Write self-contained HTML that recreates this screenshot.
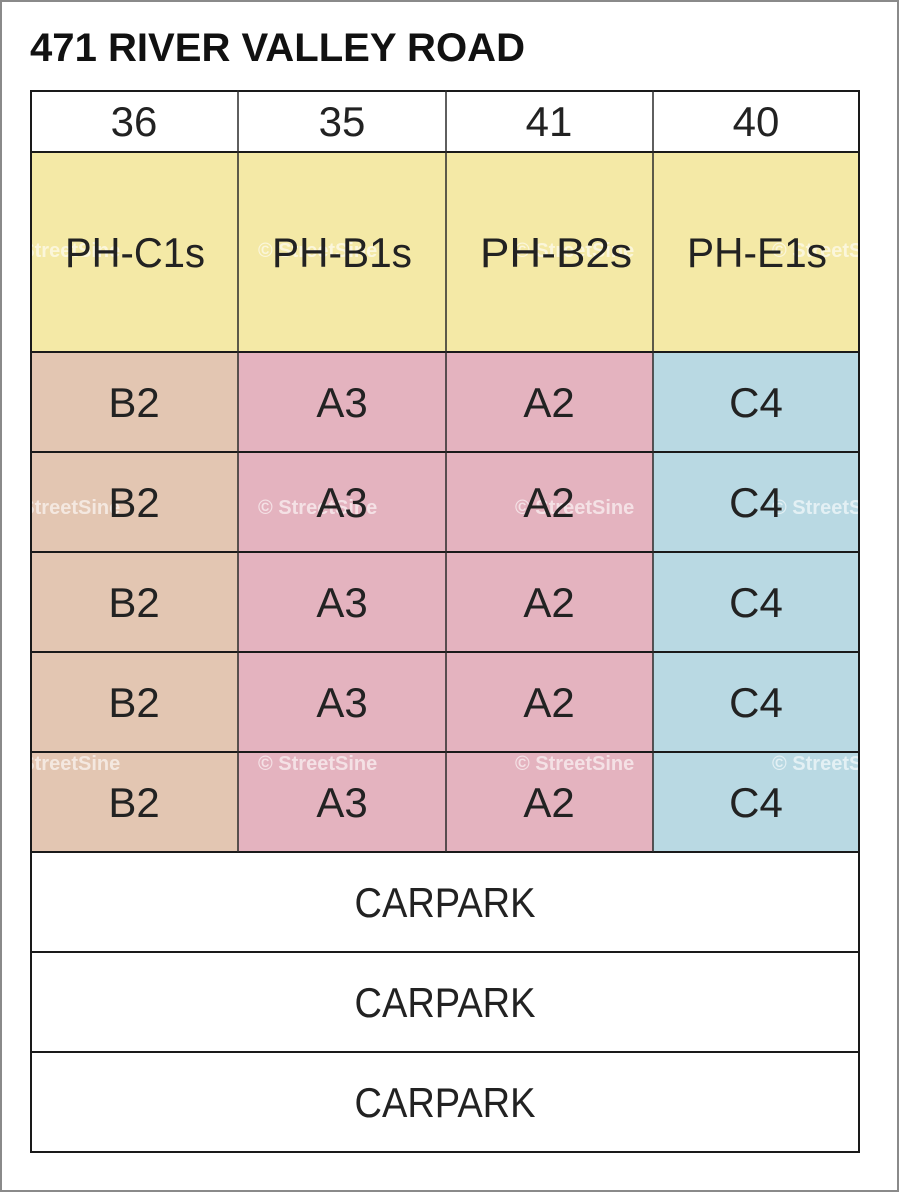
<!DOCTYPE html>
<html><head><meta charset="utf-8"><style>
html,body{margin:0;padding:0;background:#fff;}
svg{display:block;}
</style></head><body>
<svg width="900" height="1193" viewBox="0 0 900 1193" xmlns="http://www.w3.org/2000/svg">
<rect x="1" y="1" width="897" height="1190" fill="#fff" stroke="#8a8a8a" stroke-width="2"/>
<text x="30" y="61" font-family="Liberation Sans, sans-serif" font-weight="bold" font-size="40" fill="#111" textLength="495" lengthAdjust="spacingAndGlyphs">471 RIVER VALLEY ROAD</text>
<!-- fills -->
<rect x="30" y="90" width="830" height="62" fill="#fff"/>
<rect x="30" y="152" width="830" height="200" fill="#f4e9a6"/>
<rect x="30" y="352" width="208" height="500" fill="#e3c6b2"/>
<rect x="238" y="352" width="415" height="500" fill="#e4b3bf"/>
<rect x="653" y="352" width="207" height="500" fill="#b9d9e3"/>
<rect x="30" y="852" width="830" height="301" fill="#fff"/>
<!-- watermarks -->
<clipPath id="c"><rect x="30" y="90" width="830" height="1063"/></clipPath>
<g clip-path="url(#c)" font-family="Liberation Sans, sans-serif" font-weight="bold" font-size="20" fill="#ffffff" fill-opacity="0.6">
<text x="1" y="257">© StreetSine</text><text x="258" y="257">© StreetSine</text><text x="515" y="257">© StreetSine</text><text x="772" y="257">© StreetSine</text>
<text x="1" y="514">© StreetSine</text><text x="258" y="514">© StreetSine</text><text x="515" y="514">© StreetSine</text><text x="772" y="514">© StreetSine</text>
<text x="1" y="770">© StreetSine</text><text x="258" y="770">© StreetSine</text><text x="515" y="770">© StreetSine</text><text x="772" y="770">© StreetSine</text>
</g>
<!-- grid -->
<g stroke="#1a1a1a" stroke-width="2" fill="none">
<rect x="31" y="91" width="828" height="1061"/>
<line x1="30" y1="152" x2="860" y2="152"/>
<line x1="30" y1="352" x2="860" y2="352"/>
<line x1="30" y1="452" x2="860" y2="452"/>
<line x1="30" y1="552" x2="860" y2="552"/>
<line x1="30" y1="652" x2="860" y2="652"/>
<line x1="30" y1="752" x2="860" y2="752"/>
<line x1="30" y1="852" x2="860" y2="852"/>
<line x1="30" y1="952" x2="860" y2="952"/>
<line x1="30" y1="1052" x2="860" y2="1052"/>
</g>
<g stroke="#2a2a2a" stroke-width="1.5">
<line x1="238" y1="90" x2="238" y2="852"/>
<line x1="446" y1="90" x2="446" y2="852"/>
<line x1="653" y1="90" x2="653" y2="852"/>
</g>
<!-- labels -->
<g font-family="Liberation Sans, sans-serif" font-size="42" fill="#222" text-anchor="middle">
<text x="134" y="136">36</text><text x="342" y="136">35</text><text x="549" y="136">41</text><text x="756" y="136">40</text>
<text x="135" y="267" textLength="140" lengthAdjust="spacingAndGlyphs">PH-C1s</text>
<text x="342" y="267" textLength="140" lengthAdjust="spacingAndGlyphs">PH-B1s</text>
<text x="556" y="267" textLength="152" lengthAdjust="spacingAndGlyphs">PH-B2s</text>
<text x="757" y="267" textLength="140" lengthAdjust="spacingAndGlyphs">PH-E1s</text>
<text x="134" y="417">B2</text><text x="342" y="417">A3</text><text x="549" y="417">A2</text><text x="756" y="417">C4</text>
<text x="134" y="517">B2</text><text x="342" y="517">A3</text><text x="549" y="517">A2</text><text x="756" y="517">C4</text>
<text x="134" y="617">B2</text><text x="342" y="617">A3</text><text x="549" y="617">A2</text><text x="756" y="617">C4</text>
<text x="134" y="717">B2</text><text x="342" y="717">A3</text><text x="549" y="717">A2</text><text x="756" y="717">C4</text>
<text x="134" y="817">B2</text><text x="342" y="817">A3</text><text x="549" y="817">A2</text><text x="756" y="817">C4</text>
<text x="445" y="917" textLength="181" lengthAdjust="spacingAndGlyphs">CARPARK</text>
<text x="445" y="1017" textLength="181" lengthAdjust="spacingAndGlyphs">CARPARK</text>
<text x="445" y="1117" textLength="181" lengthAdjust="spacingAndGlyphs">CARPARK</text>
</g>
</svg>
</body></html>
